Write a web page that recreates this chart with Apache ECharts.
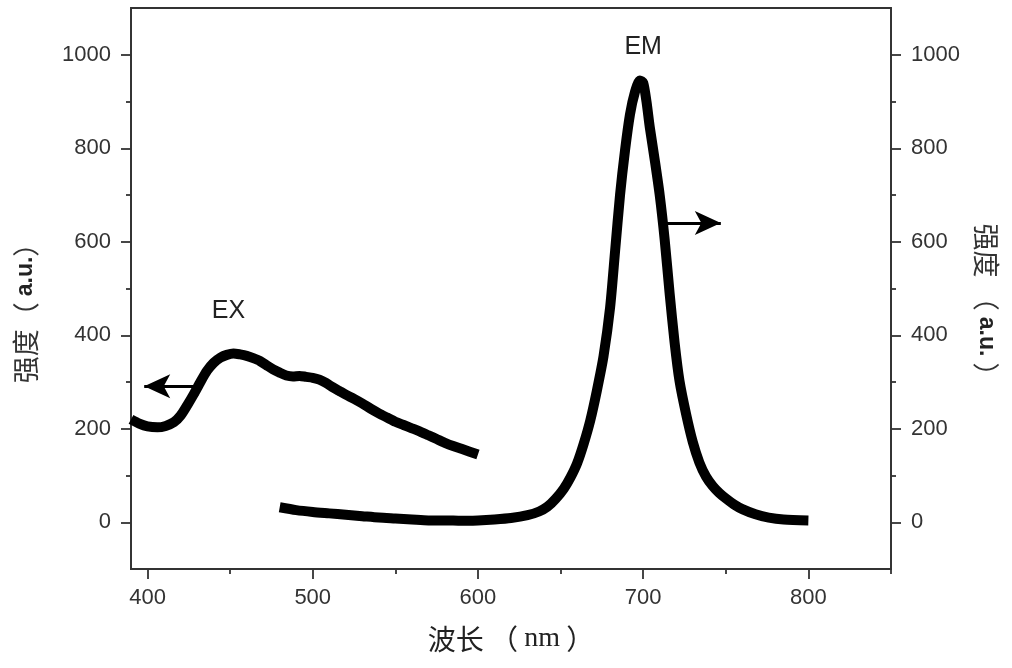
<!DOCTYPE html>
<html>
<head>
<meta charset="utf-8">
<script src="https://cdn.jsdelivr.net/npm/echarts@6/dist/echarts.min.js"></script>
<style>
    html, body {margin: 0; padding: 0; background: #fff;}
    #chart_1 {width: 1012px; height: 668px;}
</style>
</head>
<body>
<div id="chart_1"></div>
<script>
// excitation spectrum (EX)
var exWave = [390, 395, 400, 406, 411, 416, 420, 424, 428, 432, 436, 440, 444, 448, 452, 456, 460, 464, 468, 472, 476, 480,
    484, 488, 492, 496, 500, 504, 508, 512, 516, 520, 525, 530, 535, 540, 545, 550, 555, 560, 565, 570, 575, 580, 585, 590, 595, 600];
var exValue = [220, 211, 205, 203, 206, 214, 228, 250, 274, 300, 324, 341, 352, 358, 361, 359, 356, 351, 345, 336, 327, 320,
    314, 312, 313, 311, 309, 305, 298, 289, 281, 273, 264, 254, 243, 233, 224, 215, 208, 201, 194, 186, 178, 170, 163, 157, 151, 145];

// emission spectrum (EM)
var emWave = [480, 490, 500, 510, 520, 530, 540, 550, 560, 570, 580, 590, 600, 610, 620, 630, 637, 642, 647, 652, 656, 660,
    664, 668, 672, 676, 680, 683, 686, 689, 692, 695, 698, 700, 702, 704, 707, 710, 713, 716, 719, 722, 726, 730, 734, 738,
    742, 746, 750, 755, 760, 768, 776, 785, 800];
var emValue = [32, 26, 22, 19, 16, 13, 10, 8, 6, 4, 4, 3, 4, 6, 9, 15, 23, 33, 50, 72, 96, 126,
    168, 218, 282, 355, 460, 580, 700, 795, 872, 920, 945, 940, 900, 845, 775, 700, 605, 490, 385, 302, 231, 172, 128, 98,
    78, 63, 51, 38, 28, 17, 10, 6, 4];

var xTicks = [400, 500, 600, 700, 800];
var xMinorTicks = [450, 550, 650, 750, 850];
var yTicks = [0, 200, 400, 600, 800, 1000];
var yMinorTicks = [100, 300, 500, 700, 900];

// annotations: [x, y]
var exLabelPos = [449, 452];
var emLabelPos = [700, 1017];
var exArrow = [[428, 291], [398, 291]];
var emArrow = [[713, 640], [747, 640]];

function zip(xs, ys) {
    var out = [];
    for (var i = 0; i < xs.length; i++) {
        out.push([xs[i], ys[i]]);
    }
    return out;
}

var myChart = echarts.init(document.getElementById('chart_1'), null, {renderer: 'canvas'});

var axisColor = '#333';
var labelFont = 'Liberation Sans';
var nameRich = {
    c: {fontFamily: 'Noto Sans CJK SC', fontSize: 27, color: '#333'},
    b: {fontFamily: labelFont, fontWeight: 'bold', fontSize: 23, color: '#222'}
};

function plain(v) {
    return String(v);
}

function xAxisOf(ticks, len, showLabel) {
    return {
        type: 'value',
        min: 390,
        max: 850,
        position: 'bottom',
        axisLine: {show: showLabel, onZero: false, lineStyle: {color: axisColor, width: 1.8}},
        axisTick: {show: true, customValues: ticks, length: len, lineStyle: {color: axisColor, width: 1.8}},
        axisLabel: {show: showLabel, customValues: ticks, formatter: plain, margin: 18, fontSize: 22, color: '#333', fontFamily: labelFont},
        splitLine: {show: false}
    };
}

function yAxisOf(pos, ticks, len, showLabel) {
    return {
        type: 'value',
        min: -100,
        max: 1100,
        position: pos,
        axisLine: {show: showLabel, onZero: false, lineStyle: {color: axisColor, width: 1.8}},
        axisTick: {show: true, customValues: ticks, length: len, lineStyle: {color: axisColor, width: 1.8}},
        axisLabel: {show: showLabel, customValues: ticks, formatter: plain, margin: 20, fontSize: 22, color: '#333', fontFamily: labelFont},
        splitLine: {show: false}
    };
}

var xMain = xAxisOf(xTicks, 10, true);
xMain.name = '{c|波长 （ }{n|nm}{c| ）}';
xMain.nameLocation = 'middle';
xMain.nameGap = 56;
xMain.nameTextStyle = {
    rich: {
        c: {fontFamily: 'Noto Sans CJK SC', fontSize: 28, color: '#222'},
        n: {fontFamily: 'Liberation Serif', fontSize: 28, color: '#222'}
    }
};

var yLeft = yAxisOf('left', yTicks, 10, true);
yLeft.name = '{c|强度（ }{b|a.u.}{c|）}';
yLeft.nameLocation = 'middle';
yLeft.nameGap = 92;
yLeft.nameTextStyle = {rich: nameRich, padding: [0, 36, 0, 0]};

var yRight = yAxisOf('right', yTicks, 10, true);
yRight.name = '{c|强度 （ }{b|a.u.}{c| ）}';
yRight.nameLocation = 'middle';
yRight.nameRotate = -90;
yRight.nameGap = 82;
yRight.nameTextStyle = {rich: nameRich, padding: [0, 0, 0, 36]};

var lineStyle = {color: '#000', width: 10, join: 'round'};

function arrowLine(pts) {
    return [
        {coord: pts[0], symbol: 'none'},
        {coord: pts[1], symbol: 'arrow', symbolSize: [18, 26]}
    ];
}

function textMark(pos, text) {
    return {
        coord: pos,
        symbol: 'rect',
        symbolSize: 1,
        itemStyle: {color: 'rgba(0,0,0,0)'},
        label: {show: true, position: 'inside', formatter: text, fontSize: 25, color: '#222', fontFamily: labelFont}
    };
}

var option = {
    animation: false,
    backgroundColor: '#fff',
    grid: {
        left: 131,
        right: 121,
        top: 8,
        bottom: 99,
        show: true,
        borderColor: axisColor,
        borderWidth: 1.8,
        backgroundColor: 'rgba(0,0,0,0)'
    },
    xAxis: [xMain, xAxisOf(xMinorTicks, 5, false)],
    yAxis: [yLeft, yRight, yAxisOf('left', yMinorTicks, 5, false), yAxisOf('right', yMinorTicks, 5, false)],
    series: [
        {
            name: 'EX',
            type: 'line',
            xAxisIndex: 0,
            yAxisIndex: 0,
            data: zip(exWave, exValue),
            showSymbol: false,
            smooth: 0.25,
            lineStyle: lineStyle,
            markLine: {
                silent: true,
                label: {show: false},
                lineStyle: {color: '#000', width: 3, type: 'solid'},
                data: [arrowLine(exArrow)]
            },
            markPoint: {
                silent: true,
                data: [textMark(exLabelPos, 'EX')]
            }
        },
        {
            name: 'EM',
            type: 'line',
            xAxisIndex: 0,
            yAxisIndex: 1,
            data: zip(emWave, emValue),
            showSymbol: false,
            smooth: 0.25,
            lineStyle: lineStyle,
            markLine: {
                silent: true,
                label: {show: false},
                lineStyle: {color: '#000', width: 3, type: 'solid'},
                data: [arrowLine(emArrow)]
            },
            markPoint: {
                silent: true,
                data: [textMark(emLabelPos, 'EM')]
            }
        }
    ]
};

myChart.setOption(option);
window.addEventListener("resize", function () {
    myChart.resize();
});
</script>
</body>
</html>
